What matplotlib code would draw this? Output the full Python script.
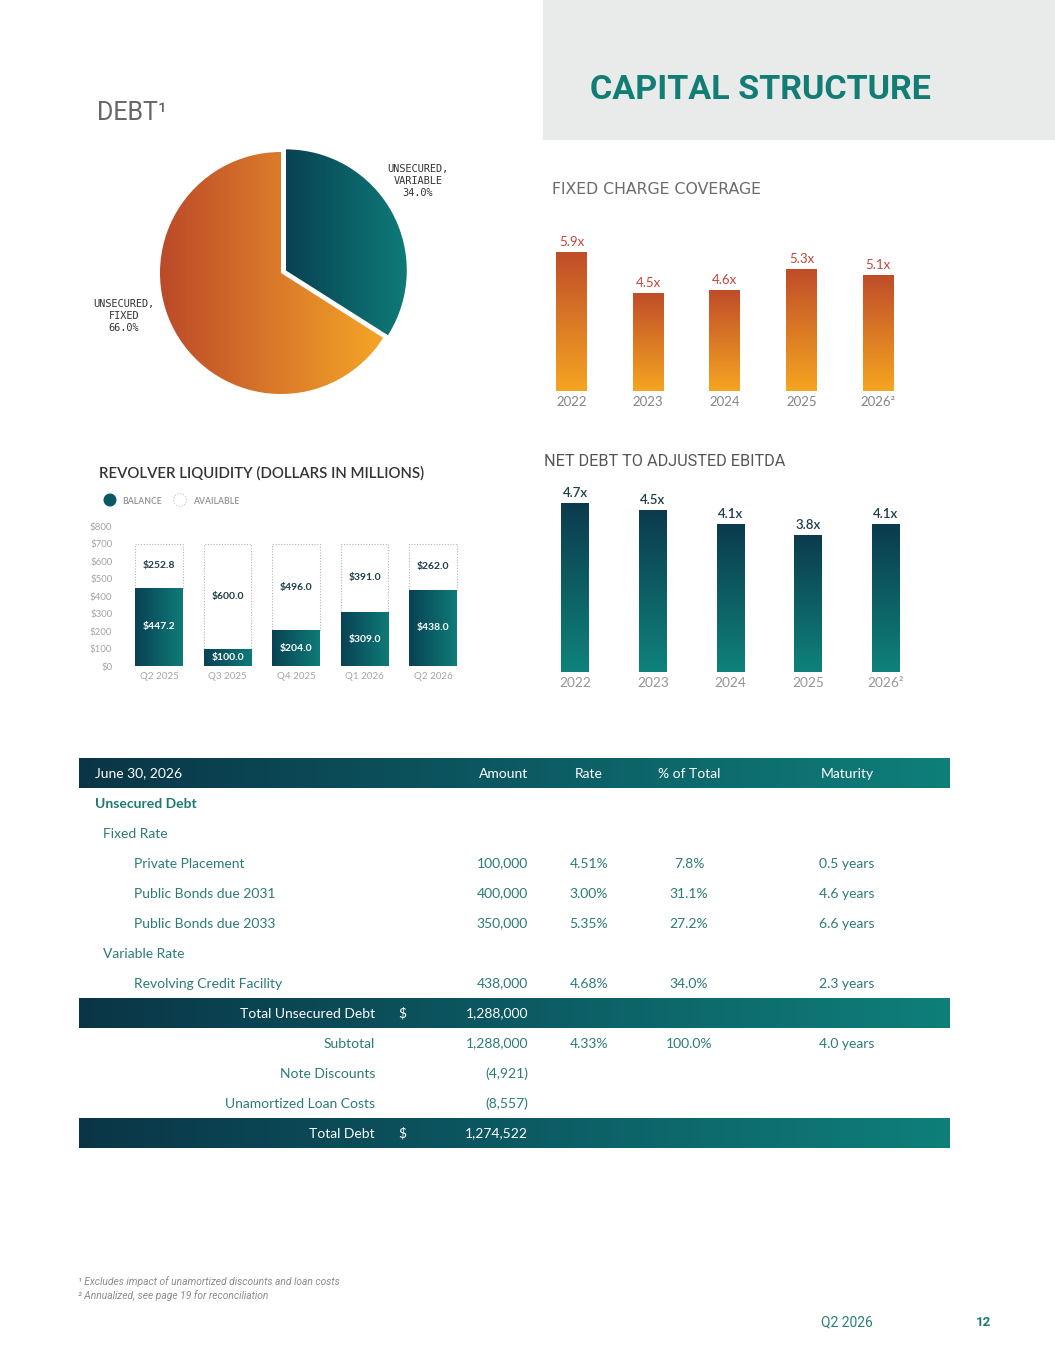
import numpy as np
import matplotlib
matplotlib.use("Agg")
import matplotlib.pyplot as plt
from matplotlib.colors import LinearSegmentedColormap
from matplotlib.patches import Rectangle, Circle

W, H = 1055, 1365

# ---------------- data ----------------
pie_labels = ["UNSECURED,\nVARIABLE", "UNSECURED,\nFIXED"]
pie_shares = [34.0, 66.0]

fcc_years = ["2022", "2023", "2024", "2025", "2026²"]
fcc_values = [5.9, 4.5, 4.6, 5.3, 5.1]

nd_years = ["2022", "2023", "2024", "2025", "2026²"]
nd_values = [4.7, 4.5, 4.1, 3.8, 4.1]

rev_quarters = ["Q2 2025", "Q3 2025", "Q4 2025", "Q1 2026", "Q2 2026"]
rev_balance = [447.2, 100.0, 204.0, 309.0, 438.0]
rev_available = [252.8, 600.0, 496.0, 391.0, 262.0]
rev_ticks = [0, 100, 200, 300, 400, 500, 600, 700, 800]

tbl_header = ["June 30, 2026", "Amount", "Rate", "% of Total", "Maturity"]
tbl_names = ["Unsecured Debt", "Fixed Rate", "Private Placement", "Public Bonds due 2031",
             "Public Bonds due 2033", "Variable Rate", "Revolving Credit Facility"]
tbl_level = [0, 1, 2, 2, 2, 1, 2]
tbl_amount = ["", "", "100,000", "400,000", "350,000", "", "438,000"]
tbl_rate = ["", "", "4.51%", "3.00%", "5.35%", "", "4.68%"]
tbl_pct = ["", "", "7.8%", "31.1%", "27.2%", "", "34.0%"]
tbl_maturity = ["", "", "0.5 years", "4.6 years", "6.6 years", "", "2.3 years"]

sum_names = ["Total Unsecured Debt", "Subtotal", "Note Discounts", "Unamortized Loan Costs", "Total Debt"]
sum_dollar = ["$", "", "", "", "$"]
sum_amount = ["1,288,000", "1,288,000", "(4,921)", "(8,557)", "1,274,522"]
sum_rate = ["", "4.33%", "", "", ""]
sum_pct = ["", "100.0%", "", "", ""]
sum_maturity = ["", "4.0 years", "", "", ""]
sum_band = [True, False, False, False, True]

footnotes = ["¹ Excludes impact of unamortized discounts and loan costs",
             "² Annualized, see page 19 for reconciliation"]

# ---------------- styles ----------------
teal_h = LinearSegmentedColormap.from_list("teal_h", ["#094253", "#0e7b78"])
teal_v = LinearSegmentedColormap.from_list("teal_v", ["#0f827b", "#0b3b4d"])
orange_h = LinearSegmentedColormap.from_list("orange_h", ["#bb4a29", "#d9782a", "#f4a626"])
orange_v = LinearSegmentedColormap.from_list("orange_v", ["#f5a521", "#bf4d29"])
band_cmap = LinearSegmentedColormap.from_list("band", ["#0a3547", "#0c5a63", "#0f7f7a"])
GRAD = np.linspace(0, 1, 256)
TBL_COLOR = "#2b7b77"

fig = plt.figure(figsize=(W / 100, H / 100), dpi=100)
bg = fig.add_axes([0, 0, 1, 1], zorder=0)
bg.axis("off")


def px_axes(x0, y0, x1, y1):
    a = fig.add_axes([x0 / W, 1 - y1 / H, (x1 - x0) / W, (y1 - y0) / H], zorder=2)
    a.patch.set_alpha(0)
    return a


def vgrad(ax, patch, cmap, ymin=None):
    x, y, w, h = patch.get_x(), patch.get_y(), patch.get_width(), patch.get_height()
    y0 = y if ymin is None else max(y, ymin)
    im = ax.imshow(GRAD.reshape(-1, 1), cmap=cmap, origin="lower", aspect="auto",
                   extent=[x, x + w, y0, y + h], zorder=patch.get_zorder())
    im.set_clip_path(patch)


def hgrad(ax, patch, cmap):
    x, y, w, h = patch.get_x(), patch.get_y(), patch.get_width(), patch.get_height()
    im = ax.imshow(GRAD.reshape(1, -1), cmap=cmap, aspect="auto",
                   extent=[x, x + w, y, y + h], zorder=patch.get_zorder())
    im.set_clip_path(patch)


# ---------------- header ----------------
bg.add_patch(Rectangle((543, 0), W - 543, 140, color="#e9ebea", lw=0))
bg.text(590, 90, "CAPITAL STRUCTURE", fontsize=24.6, fontweight="bold", color="#127d75",
        family="Roboto", va="center", ha="left")

# ---------------- pie ----------------
bg.text(97, 113, "DEBT¹", fontsize=18, color="#666666", family="Roboto",
        va="center", ha="left")
pax = px_axes(150, 142, 412, 404)
wedges, _ = pax.pie(pie_shares, startangle=90, counterclock=False, explode=[0.045, 0],
                    wedgeprops=dict(linewidth=0))
for w_, cm in zip(wedges, [teal_h, orange_h]):
    w_.set_facecolor("none")
    bb = w_.get_path().get_extents()
    im = pax.imshow(GRAD.reshape(1, -1), cmap=cm, aspect="auto",
                    extent=[bb.x0, bb.x1, bb.y0, bb.y1], zorder=1)
    im.set_clip_path(w_)
L = 1.0826
pax.set_xlim(-L, L)
pax.set_ylim(-L, L)
pax.axis("off")
pie_label_px = [(418, 181), (124, 316)]
for (lx, ly), lab, sh in zip(pie_label_px, pie_labels, pie_shares):
    bg.text(lx, ly, f"{lab}\n{sh:.1f}%", family="DejaVu Sans Mono", fontsize=7.4,
            color="#333333", ha="center", va="center", multialignment="center",
            linespacing=1.25)

# ---------------- fixed charge coverage ----------------
bg.text(552, 190, "FIXED CHARGE COVERAGE", fontsize=11.3, color="#6b6b6b",
        family="DejaVu Sans", va="center", ha="left")
fax = px_axes(525.5, 219.6, 924, 390.7)
FMIN = 1.15
fbars = fax.bar(range(len(fcc_values)), fcc_values, width=0.40, color="none", lw=0)
for b in fbars:
    vgrad(fax, b, orange_v, ymin=FMIN)
for i, v in enumerate(fcc_values):
    fax.annotate(f"{v:.1f}x", (i, v), xytext=(0, 3), textcoords="offset points",
                 ha="center", va="bottom", color="#c2453a", fontsize=9.5, family="Lato")
fax.set_xlim(-0.6, 4.6)
fax.set_ylim(FMIN, 7.0)
fax.set_xticks(range(len(fcc_years)), fcc_years)
fax.set_yticks([])
fax.tick_params(length=0, pad=3.5, labelsize=9.5, labelcolor="#858585")
for lbl in fax.get_xticklabels():
    lbl.set_family("Lato")
for s in fax.spines.values():
    s.set_visible(False)

# ---------------- net debt to adjusted ebitda ----------------
bg.text(544, 461, "NET DEBT TO ADJUSTED EBITDA", fontsize=11.7, color="#555555",
        family="Roboto", va="center", ha="left")
nax = px_axes(528.4, 485, 932.6, 671.7)
nbars = nax.bar(range(len(nd_values)), nd_values, width=0.36, color="none", lw=0)
for b in nbars:
    vgrad(nax, b, teal_v)
for i, v in enumerate(nd_values):
    nax.annotate(f"{v:.1f}x", (i, v), xytext=(0, 3), textcoords="offset points",
                 ha="center", va="bottom", color="#1d3d4b", fontsize=9.5, family="Lato",
                 fontweight="semibold")
nax.set_xlim(-0.6, 4.6)
nax.set_ylim(0, 5.2)
nax.set_xticks(range(len(nd_years)), nd_years)
nax.set_yticks([])
nax.tick_params(length=0, pad=4, labelsize=9.8, labelcolor="#969696")
for lbl in nax.get_xticklabels():
    lbl.set_family("Lato")
for s in nax.spines.values():
    s.set_visible(False)

# ---------------- revolver liquidity ----------------
bg.text(99, 473, "REVOLVER LIQUIDITY (DOLLARS IN MILLIONS)", fontsize=10.8, color="#333333",
        family="Lato", fontweight="semibold", va="center", ha="left")
bg.add_patch(Circle((110, 500), 6.5, facecolor="#0b5a63", lw=0))
bg.add_patch(Circle((180, 500), 6.5, facecolor="white", edgecolor="#c8c8c8", lw=0.8, ls=":"))
bg.text(122, 501, "BALANCE", fontsize=6.2, fontweight="bold", color="#9a9a9a", family="Lato",
        va="center", ha="left")
bg.text(193, 501, "AVAILABLE", fontsize=6.2, fontweight="bold", color="#9a9a9a", family="Lato",
        va="center", ha="left")

rax = px_axes(117.9, 517.7, 474.1, 666)
xr = np.arange(len(rev_quarters))
rax.bar(xr, rev_available, bottom=rev_balance, width=0.70, facecolor="white",
        edgecolor="#b5b5b5", linestyle=(0, (1, 1.5)), lw=0.8, zorder=2)
rbars = rax.bar(xr, rev_balance, width=0.70, color="none", lw=0, zorder=3)
for b in rbars:
    hgrad(rax, b, teal_h)
for i, (bal, av) in enumerate(zip(rev_balance, rev_available)):
    rax.text(i, bal / 2, f"${bal:.1f}", ha="center", va="center", color="white",
             fontsize=7.5, fontweight="bold", family="Lato", zorder=5)
    rax.text(i, bal + av / 2, f"${av:.1f}", ha="center", va="center", color="#1d3d4b",
             fontsize=7.5, fontweight="bold", family="Lato", zorder=5)
rax.set_xlim(-0.6, 4.6)
rax.set_ylim(0, 850)
rax.set_yticks(rev_ticks, [f"${t}" for t in rev_ticks])
rax.set_xticks(xr, rev_quarters)
rax.tick_params(length=0, labelsize=7, labelcolor="#a5a5a5")
rax.tick_params(axis="y", pad=4)
rax.tick_params(axis="x", pad=4)
for lbl in rax.get_xticklabels() + rax.get_yticklabels():
    lbl.set_family("Lato")
for s in rax.spines.values():
    s.set_visible(False)

# ---------------- table ----------------
T_X0, T_X1 = 79, 950
ROW0, PITCH, BAND_H = 773.5, 30, 29.5
COL_AMT, COL_RATE, COL_PCT, COL_MAT, COL_DOL, COL_LBL = 528, 589, 689, 847, 398, 375
INDENT = [95, 103, 134]
FS = 10


def band(yc):
    bg.imshow(GRAD.reshape(1, -1), cmap=band_cmap, aspect="auto",
              extent=[T_X0, T_X1, yc + BAND_H / 2, yc - BAND_H / 2], zorder=1)


def rowtext(yc, amt, rate, pct, mat, color):
    kw = dict(va="center", fontsize=FS, family="Lato", color=color, zorder=3)
    if amt:
        bg.text(COL_AMT, yc, amt, ha="right", **kw)
    if rate:
        bg.text(COL_RATE, yc, rate, ha="center", **kw)
    if pct:
        bg.text(COL_PCT, yc, pct, ha="center", **kw)
    if mat:
        bg.text(COL_MAT, yc, mat, ha="center", **kw)


band(ROW0)
hk = dict(va="center", fontsize=FS, family="Lato", color="white", zorder=3)
bg.text(INDENT[0], ROW0, tbl_header[0], ha="left", **hk)
bg.text(COL_AMT, ROW0, tbl_header[1], ha="right", **hk)
bg.text(COL_RATE, ROW0, tbl_header[2], ha="center", **hk)
bg.text(COL_PCT, ROW0, tbl_header[3], ha="center", **hk)
bg.text(COL_MAT, ROW0, tbl_header[4], ha="center", **hk)

r = 1
for name, lvl, amt, rate, pct, mat in zip(tbl_names, tbl_level, tbl_amount, tbl_rate,
                                          tbl_pct, tbl_maturity):
    yc = ROW0 + PITCH * r
    bg.text(INDENT[lvl], yc, name, ha="left", va="center", fontsize=FS, family="Lato",
            color="#1c7a72" if lvl == 0 else TBL_COLOR,
            fontweight="bold" if lvl == 0 else "normal", zorder=3)
    rowtext(yc, amt, rate, pct, mat, TBL_COLOR)
    r += 1

for name, dol, amt, rate, pct, mat, isband in zip(sum_names, sum_dollar, sum_amount, sum_rate,
                                                  sum_pct, sum_maturity, sum_band):
    yc = ROW0 + PITCH * r
    col = "white" if isband else TBL_COLOR
    if isband:
        band(yc)
    bg.text(COL_LBL, yc, name, ha="right", va="center", fontsize=FS, family="Lato",
            color=col, zorder=3)
    if dol:
        bg.text(COL_DOL, yc, dol, ha="left", va="center", fontsize=FS, family="Lato",
                color=col, zorder=3)
    rowtext(yc, amt, rate, pct, mat, col)
    r += 1

# ---------------- footer ----------------
for k, fn in enumerate(footnotes):
    bg.text(78, 1282 + 14 * k, fn, fontsize=7.4, style="italic", color="#8c8c8c",
            family="Roboto", va="center", ha="left")
bg.text(821, 1322, "Q2 2026", fontsize=10, color="#2a7f7a", family="Roboto",
        va="center", ha="left")
bg.text(976, 1323, "12", fontsize=9.5, color="#1b7a73", family="Roboto",
        fontweight="bold", va="center", ha="left")

bg.set_xlim(0, W)
bg.set_ylim(H, 0)

fig.savefig("out.png", dpi=100)
